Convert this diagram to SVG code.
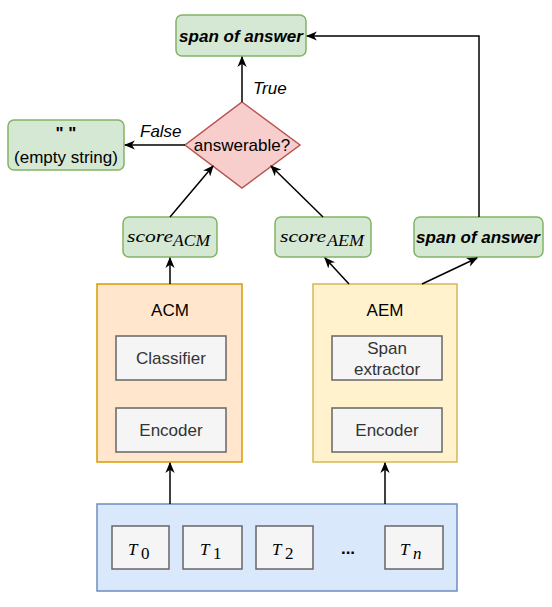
<svg xmlns="http://www.w3.org/2000/svg" width="552" height="607" viewBox="0 0 552 607">
<defs>
<marker id="a" viewBox="0 0 10 10" refX="9" refY="5" markerWidth="11" markerHeight="11" orient="auto" markerUnits="userSpaceOnUse">
<path d="M0,0.8 L10,5 L0,9.2 L2.8,5 z" fill="#000"/>
</marker>
<style>
.g{fill:#d5e8d4;stroke:#82b366;stroke-width:1.5}
.bx{fill:#f5f5f5;stroke:#666666;stroke-width:1.5}
text{font-family:"Liberation Sans",Arial,sans-serif;font-size:17px;text-anchor:middle;fill:#000}
.dk{fill:#333333}
.bi{font-weight:bold;font-style:italic}
.it{font-style:italic;text-anchor:start}
.m{font-family:"Liberation Serif","Times New Roman",serif;font-style:italic;text-anchor:start}
.n{font-family:"Liberation Serif","Times New Roman",serif;text-anchor:start;font-size:17px}
.c line,.c path{stroke:#000;stroke-width:1.5;fill:none;marker-end:url(#a)}
</style>
</defs>
<rect width="552" height="607" fill="#fff"/>

<g id="span-top">
<rect class="g" x="176" y="15" width="130" height="41" rx="6"/>
<text class="bi" x="241" y="42">span of answer</text>
</g>

<g id="answerable">
<polygon points="242,102 300,145 242,188 185,145" fill="#f8cecc" stroke="#b85450" stroke-width="1.5"/>
<text x="242" y="151">answerable?</text>
</g>

<g id="empty">
<rect class="g" x="8" y="120" width="116" height="50" rx="6"/>
<text x="66" y="139" font-weight="bold">" "</text>
<text x="66" y="163">(empty string)</text>
</g>

<g id="score-acm">
<rect class="g" x="123" y="217" width="94" height="40" rx="6"/>
<text class="m" x="127" y="242" font-size="22" textLength="46" lengthAdjust="spacingAndGlyphs">score</text>
<text class="m" x="173" y="246" font-size="16" textLength="37" lengthAdjust="spacingAndGlyphs">ACM</text>
</g>

<g id="score-aem">
<rect class="g" x="275" y="217" width="96" height="40" rx="6"/>
<text class="m" x="280" y="242" font-size="22" textLength="46" lengthAdjust="spacingAndGlyphs">score</text>
<text class="m" x="327" y="246" font-size="16" textLength="37" lengthAdjust="spacingAndGlyphs">AEM</text>
</g>

<g id="span-right">
<rect class="g" x="414" y="217" width="129" height="40" rx="6"/>
<text class="bi" x="478" y="243">span of answer</text>
</g>

<g id="acm">
<rect x="97" y="284" width="145" height="178" fill="#ffe6cc" stroke="#d79b00" stroke-width="1.5"/>
<text x="170" y="316">ACM</text>
<rect class="bx" x="116" y="336" width="110" height="44"/>
<text class="dk" x="171" y="364">Classifier</text>
<rect class="bx" x="116" y="408" width="110" height="44"/>
<text class="dk" x="171" y="436">Encoder</text>
</g>

<g id="aem">
<rect x="313" y="284" width="144" height="178" fill="#fff2cc" stroke="#d6b656" stroke-width="1.5"/>
<text x="385" y="316">AEM</text>
<rect class="bx" x="332" y="336" width="110" height="44"/>
<text class="dk" x="387" y="354">Span</text>
<text class="dk" x="387" y="375">extractor</text>
<rect class="bx" x="332" y="408" width="110" height="44"/>
<text class="dk" x="387" y="436">Encoder</text>
</g>

<g id="tokens">
<rect x="97" y="504" width="360" height="87" fill="#dae8fc" stroke="#6c8ebf" stroke-width="1.5"/>
<rect class="bx" x="112" y="526" width="57" height="43"/>
<text class="m" x="128" y="555" font-size="24">T</text><text class="n" x="141" y="559">0</text>
<rect class="bx" x="183" y="526" width="59" height="43"/>
<text class="m" x="200" y="555" font-size="24">T</text><text class="n" x="213" y="559">1</text>
<rect class="bx" x="256" y="526" width="57" height="43"/>
<text class="m" x="272" y="555" font-size="24">T</text><text class="n" x="285" y="559">2</text>
<text x="348" y="554" font-weight="bold" font-size="15">...</text>
<rect class="bx" x="385" y="526" width="58" height="43"/>
<text class="m" x="400" y="555" font-size="24">T</text><text class="m" x="413" y="559" font-size="17">n</text>
</g>

<g id="labels">
<text class="it" x="253" y="94">True</text>
<text class="it" x="140" y="137">False</text>
</g>

<g id="connectors" class="c">
<line x1="242" y1="102" x2="242" y2="57"/>
<line x1="185" y1="145" x2="125" y2="145"/>
<line x1="170" y1="217" x2="213" y2="166"/>
<line x1="323" y1="217" x2="271" y2="166"/>
<line x1="170" y1="284" x2="170" y2="258"/>
<line x1="349" y1="284" x2="325" y2="258"/>
<line x1="422" y1="284" x2="477" y2="258"/>
<path d="M479,217 V36 H307"/>
<line x1="170" y1="504" x2="170" y2="463"/>
<line x1="385" y1="504" x2="385" y2="463"/>
</g>
</svg>
